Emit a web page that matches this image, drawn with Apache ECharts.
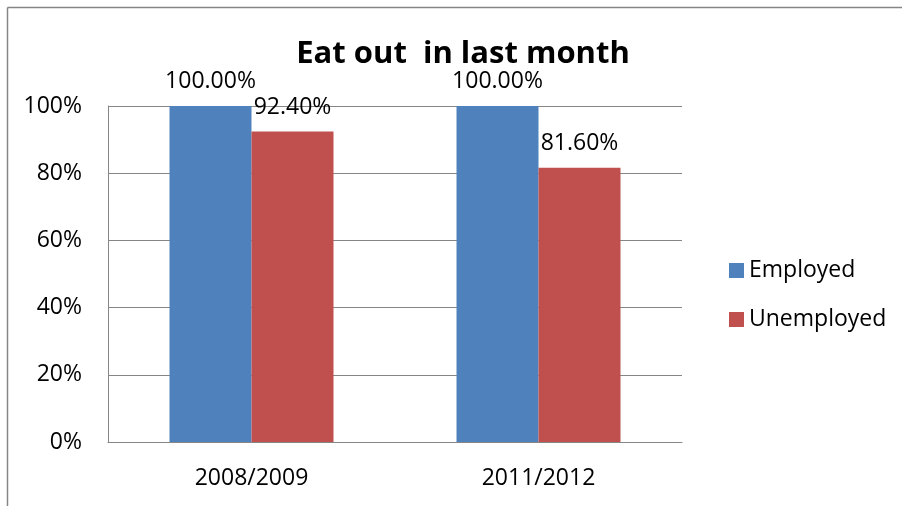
<!DOCTYPE html>
<html>
<head>
<meta charset="utf-8">
<script src="https://cdn.jsdelivr.net/npm/echarts@6/dist/echarts.min.js"></script>
<style>
  html, body { margin: 0; padding: 0; background: #fff; }
  #chart { width: 902px; height: 506px; }
</style>
</head>
<body>
<div id="chart"></div>
<script>
// Survey periods and share of respondents who ate out in the last month
const periods = ['2008/2009', '2011/2012'];
const employed = [1.0, 1.0];
const unemployed = [0.924, 0.816];
const yTicks = [0, 0.2, 0.4, 0.6, 0.8, 1.0];

const FONT = '"Open Sans", "Liberation Sans", sans-serif';
const pct2 = v => (v * 100).toFixed(2) + '%';

const chart = echarts.init(document.getElementById('chart'), null, { renderer: 'canvas' });

const labelStyle = {
  show: true,
  position: 'top',
  distance: 13,
  color: '#000',
  fontFamily: FONT,
  fontSize: 23,
  formatter: p => pct2(p.value)
};

chart.setOption({
  animation: false,
  backgroundColor: '#fff',
  title: {
    text: 'Eat out  in last month',
    left: 458,
    textAlign: 'center',
    top: 34,
    textStyle: { fontFamily: FONT, fontWeight: 'bold', fontSize: 31, color: '#000' }
  },
  // chart-area frame: only its top and left edges fall inside the page
  graphic: [
    {
      type: 'line',
      shape: { x1: 7.5, y1: 7.5, x2: 902, y2: 7.5 },
      style: { stroke: '#868686', lineWidth: 1.5 },
      silent: true
    },
    {
      type: 'line',
      shape: { x1: 7.5, y1: 7.5, x2: 7.5, y2: 506 },
      style: { stroke: '#868686', lineWidth: 1.5 },
      silent: true
    }
  ],
  legend: {
    orient: 'vertical',
    left: 724,
    top: 254,
    itemWidth: 15,
    itemHeight: 15,
    itemGap: 26,
    icon: 'rect',
    textStyle: { fontFamily: FONT, fontSize: 23, color: '#000' },
    data: ['Employed', 'Unemployed']
  },
  grid: { left: 108, right: 220, top: 106, bottom: 64 },
  xAxis: {
    type: 'category',
    data: periods,
    axisLine: { lineStyle: { color: '#868686', width: 1 } },
    axisTick: { show: false },
    axisLabel: { color: '#000', fontFamily: FONT, fontSize: 23, margin: 25 }
  },
  yAxis: {
    type: 'value',
    min: yTicks[0],
    max: yTicks[yTicks.length - 1],
    interval: 0.2,
    axisLine: { show: true, lineStyle: { color: '#868686', width: 1 } },
    axisTick: { show: false },
    splitLine: { lineStyle: { color: '#868686', width: 1 } },
    axisLabel: {
      color: '#000', fontFamily: FONT, fontSize: 23, margin: 26,
      formatter: v => Math.round(v * 100) + '%'
    }
  },
  series: [
    {
      name: 'Employed',
      type: 'bar',
      data: employed,
      barWidth: 82,
      barGap: '0%',
      itemStyle: { color: '#4F81BD' },
      label: labelStyle
    },
    {
      name: 'Unemployed',
      type: 'bar',
      data: unemployed,
      barWidth: 82,
      barGap: '0%',
      itemStyle: { color: '#C0504D' },
      label: labelStyle
    }
  ]
});
</script>
</body>
</html>
